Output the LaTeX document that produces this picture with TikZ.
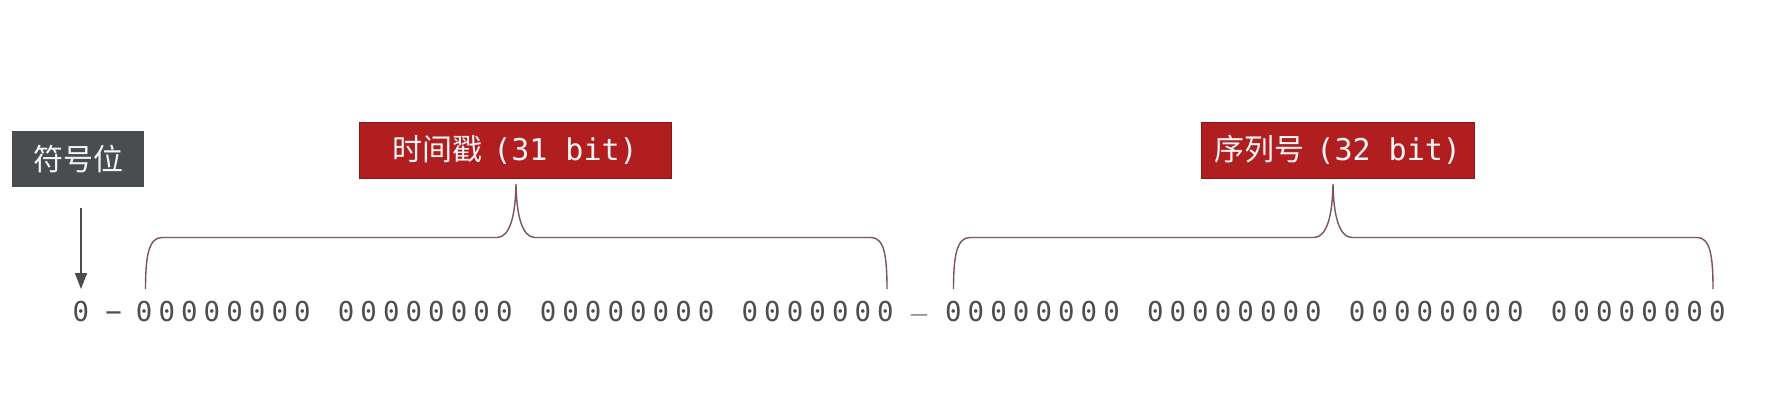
\documentclass[tikz,border=0pt]{standalone}
\usepackage{fontspec}
\usetikzlibrary{arrows.meta}
\newfontfamily\cjk{Noto Sans CJK SC}
\newfontfamily\mono{DejaVu Sans Mono}
\definecolor{boxred}{RGB}{176,30,32}
\definecolor{boxredline}{RGB}{140,22,22}
\definecolor{boxgray}{RGB}{74,77,79}
\definecolor{bracecol}{RGB}{125,82,92}
\definecolor{bitcol}{RGB}{78,78,78}
\newcommand\bitz{\makebox[11.3pt]{0}}
\begin{document}
\begin{tikzpicture}[x=0.5pt,y=-0.5pt,
  lbl/.style={inner sep=0pt, text=white!96!black, font=\fontsize{15}{15}\selectfont, minimum height=28pt},
  redlbl/.style={lbl, fill=boxred, draw=boxredline, line width=0.4pt},
  graylbl/.style={lbl, fill=boxgray},
  bits/.style={inner sep=0pt, anchor=base west, text=bitcol, font=\mono\fontsize{13.7}{14}\selectfont},
  brace/.style={draw=bracecol, line width=0.7pt},
  ptr/.style={draw=boxgray, line width=0.75pt, -{Triangle[length=8pt,width=6pt]}}]
\useasboundingbox (0,0) rectangle (1774,408);
\fill[white] (0,0) rectangle (1774,408);

% labels
\node[graylbl, minimum width=66pt] (sign) at (78,159) {\cjk 符号位};
\node[redlbl, minimum width=156pt] (ts) at (515,150) {{\cjk 时间戳}\hspace{5.5pt}{\mono (31 bit)}\hspace{5pt}};
\node[redlbl, minimum width=136.5pt] (seq) at (1337.5,150) {{\cjk 序列号}\hspace{6.2pt}{\mono (32 bit)}\hspace{6.2pt}};

% bits
\node[bits] (b0) at (69.2,321.5) {\bitz};
\node[bits, anchor=base] (d1) at (113.5,321.5) {−};
\node[bits] (g1) at (132.5,321.5) {\bitz\bitz\bitz\bitz\bitz\bitz\bitz\bitz};
\node[bits] (g2) at (334.4,321.5) {\bitz\bitz\bitz\bitz\bitz\bitz\bitz\bitz};
\node[bits] (g3) at (536.3,321.5) {\bitz\bitz\bitz\bitz\bitz\bitz\bitz\bitz};
\node[bits] (g4) at (738.2,321.5) {\bitz\bitz\bitz\bitz\bitz\bitz\bitz};
\node[bits, anchor=base] (d2) at (919,321.5) {\raisebox{6pt}{\_}};
\node[bits] (g5) at (941.7,321.5) {\bitz\bitz\bitz\bitz\bitz\bitz\bitz\bitz};
\node[bits] (g6) at (1143.6,321.5) {\bitz\bitz\bitz\bitz\bitz\bitz\bitz\bitz};
\node[bits] (g7) at (1345.5,321.5) {\bitz\bitz\bitz\bitz\bitz\bitz\bitz\bitz};
\node[bits] (g8) at (1547.4,321.5) {\bitz\bitz\bitz\bitz\bitz\bitz\bitz\bitz};

% pointer
\coordinate (ps) at (81,208);
\coordinate (pe) at (81,289);
\draw[ptr] (ps) -- (pe);

% braces
\path[brace] (145.5,289) .. controls (145.5,255) and (149,237.5) .. (162,237.5)
  -- (497,237.5) .. controls (510,237.5) and (515.5,215) .. (516,184)
  .. controls (516.5,215) and (522,237.5) .. (535,237.5)
  -- (871,237.5) .. controls (884,237.5) and (887,255) .. (887,289);
\path[brace] (953.5,289) .. controls (953.5,255) and (957,237.5) .. (970,237.5)
  -- (1314,237.5) .. controls (1327,237.5) and (1332.5,215) .. (1333,184)
  .. controls (1333.5,215) and (1339,237.5) .. (1352,237.5)
  -- (1697,237.5) .. controls (1710,237.5) and (1713,255) .. (1713,289);
\end{tikzpicture}
\end{document}
